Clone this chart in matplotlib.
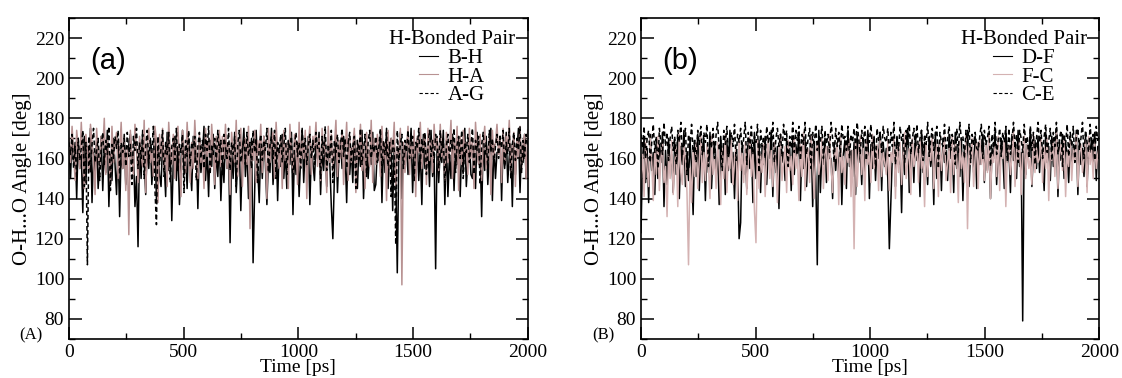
import numpy as np
import matplotlib
matplotlib.use('Agg')
import matplotlib.pyplot as plt
from matplotlib.ticker import MultipleLocator

plt.rcParams['font.family'] = ['Liberation Serif', 'DejaVu Serif']

# Panel (a): O-H...O angle [deg], 300 samples evenly over 0-2000 ps
bh = [165, 150, 172, 158, 168, 140, 170, 155, 162, 133, 171, 148, 166, 160, 175, 138, 163, 152, 169, 145,
      158, 171, 144, 166, 153, 174, 136, 162, 149, 170, 157, 142, 168, 131, 164, 155, 172, 147, 160, 167,
      172, 157, 164, 136, 151, 116, 168, 150, 174, 159, 142, 167, 155, 170, 147, 161, 173, 139, 165, 152,
      146, 169, 158, 141, 173, 154, 165, 129, 160, 171, 149, 166, 137, 158, 174, 152, 163, 145, 170, 156,
      144, 171, 158, 166, 135, 170, 153, 162, 176, 149, 164, 141, 169, 156, 172, 145, 163, 151, 170, 139,
      161, 148, 172, 155, 167, 118, 164, 150, 173, 143, 159, 168, 134, 162, 175, 151, 166, 140, 157, 170,
      108, 143, 174, 155, 138, 166, 150, 171, 158, 137, 160, 153, 175, 147, 162, 170, 139, 165, 156, 172,
      150, 163, 145, 169, 157, 173, 132, 164, 152, 168, 141, 160, 175, 148, 166, 155, 171, 137, 163, 158,
      149, 167, 160, 173, 142, 164, 154, 170, 146, 168, 158, 136, 120, 151, 174, 143, 162, 169, 155, 171,
      163, 138, 170, 152, 165, 148, 172, 159, 145, 167, 156, 174, 140, 161, 169, 150, 164, 157, 173, 144,
      147, 165, 159, 172, 138, 168, 153, 175, 145, 163, 170, 134, 166, 152, 103, 161, 173, 140, 167, 156,
      168, 152, 161, 175, 143, 166, 157, 170, 149, 164, 137, 172, 155, 160, 168, 146, 174, 151, 163, 105,
      171, 148, 164, 158, 174, 137, 169, 141, 162, 150, 172, 144, 166, 157, 170, 141, 165, 153, 175, 146,
      160, 170, 152, 150, 166, 145, 173, 158, 164, 131, 169, 154, 171, 147, 162, 175, 139, 167, 150, 163,
      163, 171, 139, 168, 155, 173, 148, 161, 167, 136, 170, 152, 164, 175, 143, 166, 158, 172, 150, 165]
ha = [170, 158, 176, 162, 149, 174, 166, 155, 178, 160, 145, 172, 164, 153, 177, 168, 159, 142, 175, 163,
      156, 171, 165, 180, 152, 169, 161, 147, 176, 158, 167, 173, 150, 163, 178, 155, 170, 144, 166, 122,
      174, 160, 152, 177, 165, 148, 171, 162, 156, 179, 143, 168, 175, 158, 164, 151, 176, 169, 138, 172,
      161, 175, 154, 167, 146, 178, 163, 157, 172, 150, 169, 176, 159, 141, 174, 165, 153, 178, 162, 148,
      168, 155, 179, 163, 150, 172, 158, 166, 145, 175, 161, 170, 153, 177, 164, 147, 171, 159, 174, 156,
      171, 160, 177, 155, 168, 142, 173, 164, 158, 179, 151, 167, 175, 146, 163, 170, 157, 176, 125, 166,
      159, 174, 148, 169, 162, 177, 153, 171, 165, 140, 175, 158, 167, 173, 150, 178, 163, 155, 170, 145,
      174, 159, 168, 145, 177, 162, 153, 172, 165, 147, 178, 156, 169, 160, 174, 140, 167, 176, 152, 171,
      165, 178, 156, 170, 149, 175, 162, 168, 143, 176, 158, 172, 154, 166, 179, 151, 169, 160, 174, 147,
      163, 178, 149, 171, 158, 166, 175, 143, 169, 161, 177, 154, 167, 145, 173, 162, 156, 179, 148, 170,
      157, 172, 164, 151, 176, 160, 168, 139, 174, 155, 170, 163, 178, 146, 166, 159, 175, 97, 168, 153,
      165, 176, 152, 168, 160, 174, 141, 171, 163, 178, 155, 166, 172, 147, 175, 159, 169, 153, 177, 164,
      170, 154, 177, 161, 167, 148, 173, 158, 165, 179, 150, 169, 162, 176, 144, 171, 157, 174, 163, 168,
      152, 175, 160, 170, 145, 178, 164, 157, 172, 149, 167, 176, 155, 163, 171, 142, 174, 160, 168, 177,
      162, 169, 148, 175, 158, 171, 164, 179, 153, 166, 173, 146, 170, 161, 176, 155, 168, 172, 150, 174]
ag = [168, 162, 172, 155, 166, 150, 170, 159, 165, 174, 146, 168, 107, 171, 153, 167, 175, 158, 164, 170,
      149, 166, 173, 157, 169, 162, 176, 144, 167, 160, 171, 165, 174, 152, 168, 163, 170, 156, 173, 161,
      167, 147, 171, 164, 175, 155, 168, 160, 172, 150, 166, 174, 158, 169, 163, 176, 145, 127, 171, 157,
      165, 174, 151, 168, 162, 173, 148, 166, 170, 159, 175, 154, 167, 163, 172, 143, 169, 161, 174, 156,
      168, 165, 171, 149, 166, 173, 160, 169, 155, 172, 164, 176, 152, 167, 162, 170, 158, 174, 163, 169,
      151, 172, 166, 160, 175, 154, 168, 162, 171, 146, 167, 174, 158, 165, 170, 157, 173, 161, 168, 155,
      174, 163, 170, 148, 166, 172, 159, 169, 164, 175, 153, 167, 171, 160, 174, 150, 168, 163, 172, 158,
      166, 175, 152, 169, 164, 171, 147, 167, 173, 161, 168, 155, 174, 163, 170, 157, 166, 172, 160, 169,
      157, 173, 165, 168, 150, 171, 162, 176, 154, 167, 160, 174, 148, 169, 163, 172, 158, 166, 175, 161,
      170, 155, 168, 173, 159, 166, 171, 145, 169, 162, 175, 157, 164, 172, 151, 168, 174, 160, 167, 163,
      171, 158, 166, 175, 153, 169, 162, 173, 156, 168, 141, 170, 164, 117, 174, 159, 167, 172, 155, 169,
      163, 174, 160, 167, 171, 149, 168, 165, 175, 157, 170, 162, 173, 152, 166, 174, 161, 169, 158, 172,
      168, 155, 174, 163, 170, 148, 166, 172, 159, 169, 164, 175, 153, 167, 171, 160, 174, 150, 168, 163,
      172, 158, 166, 175, 152, 169, 164, 171, 147, 167, 173, 161, 168, 155, 174, 163, 170, 157, 166, 172,
      160, 171, 165, 174, 156, 168, 162, 175, 150, 167, 173, 159, 170, 164, 176, 153, 169, 161, 172, 166]

# Panel (b)
df = [123, 160, 170, 148, 165, 138, 172, 154, 163, 142, 169, 150, 167, 158, 173, 136, 164, 147, 170, 155,
      162, 143, 168, 152, 171, 140, 166, 157, 174, 146, 163, 149, 169, 155, 132, 167, 151, 172, 144, 165,
      158, 170, 139, 166, 153, 173, 145, 162, 168, 150, 164, 137, 171, 156, 167, 142, 169, 154, 174, 148,
      163, 140, 166, 158, 120, 128, 168, 152, 164, 145, 170, 155, 167, 138, 173, 150, 161, 169, 143, 166,
      157, 171, 147, 164, 160, 174, 141, 168, 153, 166, 135, 172, 158, 163, 149, 170, 156, 165, 144, 171,
      152, 167, 161, 173, 139, 166, 155, 170, 146, 164, 159, 172, 136, 168, 151, 107, 174, 143, 163, 157,
      170, 148, 166, 160, 160, 140, 168, 154, 165, 150, 171, 137, 162, 169, 145, 174, 156, 164, 151, 168,
      142, 172, 158, 165, 147, 170, 153, 163, 174, 140, 167, 155, 171, 149, 166, 160, 173, 144, 168, 156,
      165, 150, 115, 138, 162, 169, 146, 171, 157, 164, 133, 170, 152, 166, 175, 143, 161, 168, 148, 172,
      159, 166, 141, 174, 153, 168, 162, 147, 171, 156, 165, 137, 173, 150, 163, 169, 144, 170, 158, 164,
      149, 172, 160, 167, 143, 173, 155, 165, 151, 170, 139, 166, 158, 174, 146, 162, 168, 153, 171, 145,
      168, 157, 164, 172, 148, 169, 154, 171, 140, 165, 160, 173, 147, 167, 152, 170, 163, 145, 174, 158,
      166, 143, 172, 159, 168, 150, 174, 156, 163, 79, 170, 152, 167, 161, 175, 146, 164, 169, 155, 171,
      153, 170, 162, 144, 173, 158, 166, 149, 171, 156, 164, 175, 141, 168, 159, 172, 150, 167, 163, 148,
      171, 155, 167, 160, 174, 142, 169, 157, 165, 151, 172, 146, 168, 163, 170, 154, 173, 149, 166, 160]
fc = [150, 162, 141, 168, 155, 146, 170, 158, 139, 165, 152, 171, 144, 160, 167, 148, 156, 131, 163, 150,
      169, 142, 158, 165, 136, 172, 153, 147, 166, 160, 143, 107, 155, 138, 164, 151, 168, 145, 159, 173,
      148, 163, 149, 167, 156, 140, 171, 152, 161, 145, 168, 158, 137, 165, 150, 172, 143, 162, 155, 169,
      147, 160, 166, 139, 170, 154, 163, 148, 168, 142, 159, 171, 151, 164, 134, 118, 169, 145, 162, 153,
      167, 141, 161, 170, 150, 164, 146, 168, 156, 138, 163, 172, 149, 158, 166, 143, 169, 154, 161, 147,
      170, 155, 162, 139, 167, 151, 173, 144, 160, 165, 148, 171, 157, 140, 163, 168, 152, 159, 170, 145,
      162, 166, 149, 172, 156, 143, 165, 160, 168, 137, 171, 153, 161, 147, 167, 158, 170, 141, 164, 115,
      168, 146, 162, 171, 152, 165, 139, 169, 157, 163, 148, 172, 155, 160, 167, 144, 170, 151, 163, 158,
      152, 169, 144, 163, 158, 171, 140, 166, 153, 168, 147, 162, 173, 150, 159, 165, 142, 170, 156, 161,
      166, 148, 170, 155, 162, 136, 168, 151, 164, 159, 172, 145, 160, 167, 141, 169, 154, 163, 171, 149,
      158, 165, 143, 171, 152, 167, 160, 138, 169, 155, 163, 148, 172, 125, 166, 157, 170, 146, 161, 168,
      145, 170, 157, 164, 149, 168, 153, 172, 140, 162, 158, 166, 151, 171, 144, 165, 160, 169, 136, 163,
      167, 152, 161, 174, 146, 165, 158, 169, 142, 163, 171, 150, 167, 155, 160, 147, 172, 153, 165, 158,
      160, 171, 148, 166, 155, 170, 139, 164, 159, 168, 151, 173, 145, 162, 167, 154, 169, 141, 163, 156,
      170, 149, 165, 158, 172, 146, 163, 167, 153, 160, 169, 143, 171, 157, 164, 150, 168, 155, 162, 166]
ce = [172, 165, 176, 160, 170, 174, 158, 168, 177, 163, 171, 155, 175, 167, 162, 178, 166, 173, 159, 170,
      176, 164, 171, 157, 174, 168, 178, 161, 169, 175, 152, 172, 166, 177, 163, 170, 158, 174, 167, 176,
      162, 173, 168, 177, 156, 171, 165, 175, 160, 172, 178, 164, 169, 154, 174, 167, 176, 161, 170, 173,
      166, 177, 159, 172, 168, 175, 163, 170, 178, 157, 173, 165, 176, 162, 171, 168, 177, 153, 174, 166,
      171, 160, 176, 168, 173, 164, 178, 158, 170, 175, 166, 172, 161, 177, 169, 174, 156, 171, 165, 178,
      163, 174, 169, 176, 159, 172, 167, 178, 162, 170, 175, 155, 173, 166, 177, 164, 171, 168, 176, 160,
      174, 167, 172, 163, 178, 170, 158, 175, 166, 173, 161, 177, 169, 171, 164, 176, 160, 172, 168, 175,
      165, 178, 170, 162, 174, 167, 176, 159, 172, 168, 177, 164, 171, 156, 175, 169, 173, 163, 176, 170,
      168, 175, 161, 173, 166, 178, 157, 171, 164, 176, 169, 172, 158, 174, 167, 177, 162, 170, 175, 165,
      177, 163, 170, 174, 159, 172, 167, 178, 161, 169, 175, 164, 171, 176, 155, 173, 168, 166, 177, 162,
      170, 176, 164, 172, 168, 157, 175, 163, 178, 169, 171, 160, 174, 166, 177, 158, 172, 167, 173, 165,
      164, 171, 177, 160, 174, 167, 170, 176, 156, 172, 165, 178, 162, 169, 175, 161, 173, 168, 176, 159,
      175, 162, 169, 178, 165, 172, 158, 174, 170, 163, 177, 167, 171, 160, 176, 164, 173, 157, 170, 178,
      168, 174, 160, 171, 177, 163, 169, 175, 159, 173, 166, 178, 162, 170, 174, 156, 172, 167, 177, 161,
      173, 166, 176, 158, 171, 175, 164, 170, 178, 160, 174, 168, 163, 177, 165, 172, 159, 176, 169, 171]

t_a = np.linspace(0, 2000, len(bh))
t_b = np.linspace(0, 2000, len(df))

fig = plt.figure(figsize=(11.22, 3.78), dpi=100)
ax1 = fig.add_axes([0.0615, 0.1032, 0.4088, 0.8492])
ax2 = fig.add_axes([0.5713, 0.1032, 0.4085, 0.8492])

paneles = [
    (ax1, t_a, [(bh, 'B-H', 'black', '-'), (ha, 'H-A', '#b89292', '-'), (ag, 'A-G', 'black', '--')], '(a)', '(A)'),
    (ax2, t_b, [(df, 'D-F', 'black', '-'), (fc, 'F-C', '#d4b2b2', '-'), (ce, 'C-E', 'black', '--')], '(b)', '(B)'),
]

for ax, t, series, letra, letra_abajo in paneles:
    for y, lab, col, ls in series:
        if ls == '--':
            ax.plot(t, y, color=col, lw=1.1, label=lab, dashes=(3, 2))
        else:
            ax.plot(t, y, color=col, lw=1.1, label=lab)
    ax.set_xlim(0, 2000)
    ax.set_ylim(70, 230)
    ax.xaxis.set_major_locator(MultipleLocator(500))
    ax.xaxis.set_minor_locator(MultipleLocator(250))
    ax.yaxis.set_minor_locator(MultipleLocator(10))
    ax.set_yticks([80, 100, 120, 140, 160, 180, 200, 220])
    ax.tick_params(which='both', direction='in', top=True, right=True, labelsize=14)
    ax.tick_params(which='major', length=9, width=1.1)
    ax.tick_params(which='minor', length=4, width=1.0)
    for s in ax.spines.values():
        s.set_linewidth(1.2)
    ax.set_xlabel('Time [ps]', fontsize=14, labelpad=-1)
    ax.set_ylabel('O-H...O Angle [deg]', fontsize=15, labelpad=2)
    ax.text(0.046, 0.91, letra, transform=ax.transAxes, fontsize=21,
            family=['Liberation Sans', 'DejaVu Sans'], va='top')
    ax.text(-0.083, 0.012, letra_abajo, transform=ax.transAxes, fontsize=12,
            ha='center', va='center')
    leg = ax.legend(loc='upper right', frameon=False, title='H-Bonded Pair', fontsize=15,
                    title_fontsize=15, handlelength=0.9, labelspacing=-0.05, handletextpad=0.45,
                    borderaxespad=0.3, borderpad=0.3)
    for h in leg.get_lines():
        h.set_linewidth(0.8)

fig.savefig('out.png', dpi=100)
